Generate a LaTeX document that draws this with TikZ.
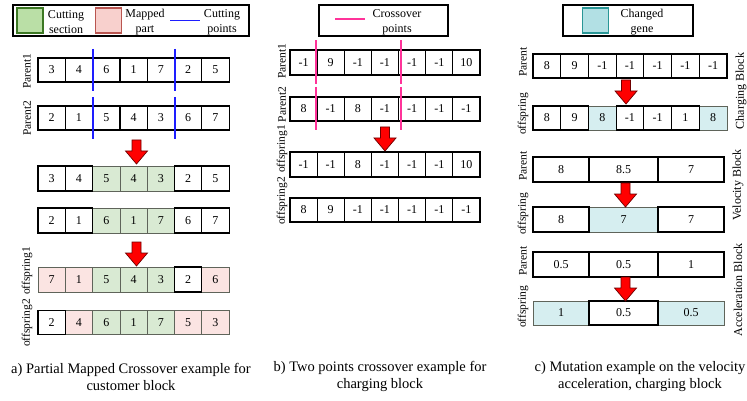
\documentclass[tikz,border=0pt]{standalone}
\usepackage{fontspec}
\setmainfont{Liberation Serif}
\usetikzlibrary{calc}

\definecolor{secfill}{RGB}{186,223,166}
\definecolor{secedge}{RGB}{60,120,35}
\definecolor{mapfill}{RGB}{248,208,205}
\definecolor{mapedge}{RGB}{185,85,80}
\definecolor{chgfill}{RGB}{178,224,228}
\definecolor{chgedge}{RGB}{40,150,150}
\definecolor{greencell}{RGB}{217,234,211}
\definecolor{pinkcell}{RGB}{251,228,226}
\definecolor{tealcell}{RGB}{214,238,240}
\definecolor{celledge}{RGB}{95,100,90}
\definecolor{cutblue}{RGB}{30,30,255}
\definecolor{cutpink}{RGB}{255,51,153}
\definecolor{arrowedge}{RGB}{110,0,0}

% one row of genes: name, left x, centre y, cell width, cell height, value/colour list
% colour codes: 0 white, 1 green, 2 pink, 3 teal; white cells are drawn last
\newcommand\generow[6]{%
  \foreach \v/\c [count=\i] in {#6}{%
    \ifnum\c>0 \node[cell\c, minimum width=#4pt, minimum height=#5pt] (#1-\i) at ({#2+(\i-0.5)*#4},#3) {\v};\fi}
  \foreach \v/\c [count=\i] in {#6}{%
    \ifnum\c=0 \node[cell0, minimum width=#4pt, minimum height=#5pt] (#1-\i) at ({#2+(\i-0.5)*#4},#3) {\v};\fi}
}

\begin{document}
\begin{tikzpicture}[x=1pt,y=-1pt,
  cellbase/.style={rectangle, inner sep=0pt, font=\fontsize{12}{14}\selectfont},
  cell0/.style={cellbase, draw=black, line width=1.2pt, fill=white},
  cell1/.style={cellbase, draw=celledge, line width=0.8pt, fill=greencell},
  cell2/.style={cellbase, draw=celledge, line width=0.8pt, fill=pinkcell},
  cell3/.style={cellbase, draw=celledge, line width=0.8pt, fill=tealcell},
  legbox/.style={rectangle, draw=black, line width=1.1pt, inner sep=0pt},
  legtext/.style={align=center, inner sep=0pt, font=\fontsize{12}{15}\selectfont},
  swatch/.style={rectangle, inner sep=0pt, minimum width=26pt, minimum height=25pt, line width=1.1pt},
  rowlabel/.style={rotate=90, inner sep=0pt, font=\fontsize{11.5}{13}\selectfont},
  blocklabel/.style={rotate=90, inner sep=0pt, font=\fontsize{12}{14}\selectfont},
  caption/.style={align=center, inner sep=0pt, font=\fontsize{14.5}{17}\selectfont},
  bluecut/.style={draw=cutblue, line width=1.5pt},
  pinkcut/.style={draw=cutpink, line width=1.5pt},
  redarrow/.pic={\filldraw[fill=red, draw=arrowedge, line width=0.7pt]
     (-4.5,0) -- (4.5,0) -- (4.5,11) -- (11,11) -- (0,24) -- (-11,11) -- (-4.5,11) -- cycle;}
]
\useasboundingbox (0,0) rectangle (747,401);

% ---------------- a) partial mapped crossover ----------------
\node[legbox, minimum width=236pt, minimum height=31pt] (lega) at (131,20.5) {};
\node[swatch, draw=secedge, fill=secfill] (swsec) at (30,20.5) {};
\node[legtext] (txsec) at (66,22) {Cutting\\section};
\node[swatch, draw=mapedge, fill=mapfill] (swmap) at (108.5,20.5) {};
\node[legtext] (txmap) at (145,22) {Mapped\\part};
\coordinate (blA) at (170,20.5);
\coordinate (blB) at (200,20.5);
\draw[bluecut] (blA) -- (blB);
\node[legtext] (txcut) at (222,22) {Cutting\\points};

\generow{ap}{38}{70}{27.3}{24}{3/0,4/0,6/0,1/0,7/0,2/0,5/0}
\generow{aq}{38}{118}{27.3}{24}{2/0,1/0,5/0,4/0,3/0,6/0,7/0}
\generow{ar}{38}{178.5}{27.3}{25}{3/0,4/0,5/1,4/1,3/1,2/0,5/0}
\generow{as}{38}{220.5}{27.3}{25}{2/0,1/0,6/1,1/1,7/1,6/0,7/0}
\generow{ao}{38}{279.5}{27.3}{25}{7/2,1/2,5/1,4/1,3/1,2/0,6/2}
\generow{at}{38}{322.5}{27.3}{24}{2/0,4/2,6/1,1/1,7/1,5/2,3/2}

\node[rowlabel] (lap) at (27,71) {Parent1};
\node[rowlabel] (laq) at (27,118) {Parent2};
\node[rowlabel] (lao) at (27,271) {offspring1};
\node[rowlabel] (lat) at (27,323) {offspring2};

\foreach \r in {ap,aq}{
  \draw[bluecut] ($(\r-2.north east)+(0,-8.5)$) -- ($(\r-2.south east)+(0,8)$);
  \draw[bluecut] ($(\r-5.north east)+(0,-8.5)$) -- ($(\r-5.south east)+(0,8)$);
}

\pic at (136.5,140) {redarrow};
\pic at (136.5,242) {redarrow};

\node[caption] (capa) at (131,376.5) {a) Partial Mapped Crossover example for\\customer block};

% ---------------- b) two points crossover ----------------
\node[legbox, minimum width=129pt, minimum height=31pt] (legb) at (383.5,20.5) {};
\coordinate (plA) at (335,19);
\coordinate (plB) at (365,19);
\draw[pinkcut] (plA) -- (plB);
\node[legtext] (txcross) at (397,22) {Crossover\\points};

\generow{bp}{290}{62.5}{27.14}{25}{-1/0,9/0,-1/0,-1/0,-1/0,-1/0,10/0}
\generow{bq}{290}{109}{27.14}{24}{8/0,-1/0,8/0,-1/0,-1/0,-1/0,-1/0}
\generow{bo}{290}{164.5}{27.14}{25}{-1/0,-1/0,8/0,-1/0,-1/0,-1/0,10/0}
\generow{bt}{290}{210}{27.14}{24}{8/0,9/0,-1/0,-1/0,-1/0,-1/0,-1/0}

\node[rowlabel] (lbp) at (282,61) {Parent1};
\node[rowlabel] (lbq) at (282,104.5) {Parent2};
\node[rowlabel] (lbo) at (282,149) {offspring1};
\node[rowlabel] (lbt) at (282,201) {offspring2};

% the cut marks sit just beside the cell borders
\foreach \r in {bp,bq}{
  \draw[pinkcut] ($(\r-1.north east)+(-1.8,-9)$) -- ($(\r-1.south east)+(-1.8,8.5)$);
  \draw[pinkcut] ($(\r-4.north east)+(1.8,-9)$) -- ($(\r-4.south east)+(1.8,8.5)$);
}

\pic at (385,127) {redarrow};

\node[caption] (capb) at (380,376.5) {b) Two points crossover example for\\charging block};

% ---------------- c) mutation ----------------
\node[legbox, minimum width=130pt, minimum height=31pt] (legc) at (628,20.5) {};
\node[swatch, draw=chgedge, fill=chgfill] (swchg) at (595.5,20.5) {};
\node[legtext] (txchg) at (642,22) {Changed\\gene};

% charging block
\generow{cp}{533}{66}{27.71}{24}{8/0,9/0,-1/0,-1/0,-1/0,-1/0,-1/0}
\generow{co}{533}{118}{27.71}{24}{8/0,9/0,8/3,-1/0,-1/0,1/0,8/3}
\pic at (626,80) {redarrow};

% velocity block
\node[cell0, minimum width=56pt, minimum height=25pt] (vp-1) at (561,169.5) {8};
\node[cell0, minimum width=69pt, minimum height=25pt] (vp-2) at (623.5,169.5) {8.5};
\node[cell0, minimum width=66pt, minimum height=25pt] (vp-3) at (691,169.5) {7};
\node[cell3, minimum width=69pt, minimum height=25pt] (vo-2) at (623.5,219.5) {7};
\node[cell0, minimum width=56pt, minimum height=25pt] (vo-1) at (561,219.5) {8};
\node[cell0, minimum width=66pt, minimum height=25pt] (vo-3) at (691,219.5) {7};
\pic at (625.5,183) {redarrow};

% acceleration block
\node[cell0, minimum width=56pt, minimum height=25pt] (ap-1) at (561,264.5) {0.5};
\node[cell0, minimum width=69pt, minimum height=25pt] (ap-2) at (623.5,264.5) {0.5};
\node[cell0, minimum width=66pt, minimum height=25pt] (ap-3) at (691,264.5) {1};
\node[cell3, minimum width=56pt, minimum height=24pt] (ao-1) at (561,313) {1};
\node[cell3, minimum width=66pt, minimum height=24pt] (ao-3) at (691,313) {0.5};
\node[cell0, minimum width=69pt, minimum height=24pt] (ao-2) at (623.5,313) {0.5};
\pic at (625.5,277) {redarrow};

\node[rowlabel] (lcp) at (523,62) {Parent};
\node[rowlabel] (lco) at (523,114) {offspring};
\node[rowlabel] (lvp) at (523,166) {Parent};
\node[rowlabel] (lvo) at (523,214) {offspring};
\node[rowlabel] (lap2) at (523,261) {Parent};
\node[rowlabel] (lao2) at (523,307) {offspring};

\node[blocklabel] (bch) at (741,91) {Charging Block};
\node[blocklabel] (bve) at (738,185) {Velocity Block};
\node[blocklabel] (bac) at (738,290) {Acceleration Block};

\node[caption] (capc) at (640,376.5) {c) Mutation example on the velocity\\acceleration, charging block};

\end{tikzpicture}
\end{document}
